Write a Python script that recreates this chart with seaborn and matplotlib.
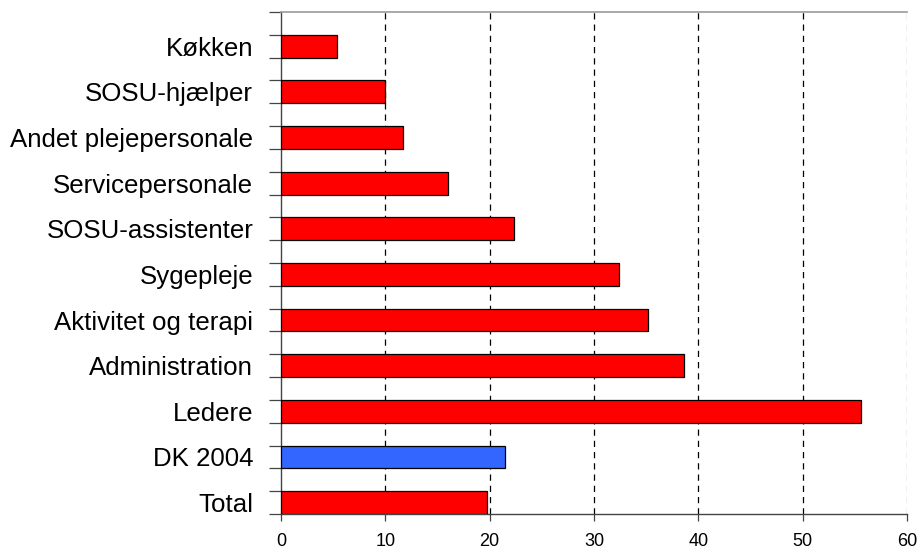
import numpy as np
import pandas as pd
import matplotlib
matplotlib.use("Agg")
import matplotlib.pyplot as plt
from matplotlib.ticker import FixedLocator
import seaborn as sns

categories = ["Køkken", "SOSU-hjælper", "Andet plejepersonale", "Servicepersonale",
              "SOSU-assistenter", "Sygepleje", "Aktivitet og terapi", "Administration",
              "Ledere", "DK 2004", "Total"]
values = [5.4, 10.0, 11.7, 16.0, 22.3, 32.4, 35.2, 38.6, 55.6, 21.5, 19.7]
x_ticks = [0, 10, 20, 30, 40, 50, 60]

RED = "#FF0000"
BLUE = "#3366FF"
colors = {c: (BLUE if c == "DK 2004" else RED) for c in categories}

df = pd.DataFrame({"kategori": categories, "andel": values})

sns.set_theme(style="white")
plt.rcParams["font.family"] = ["Liberation Sans", "DejaVu Sans"]
plt.rcParams["text.color"] = "black"
plt.rcParams["xtick.color"] = "black"
plt.rcParams["ytick.color"] = "black"

fig = plt.figure(figsize=(9.18, 5.5), dpi=100)
ax = fig.add_axes([281 / 918, 36 / 550, 626 / 918, 502 / 550])

sns.barplot(data=df, y="kategori", x="andel", hue="kategori", palette=colors,
            order=categories, hue_order=categories, legend=False, width=0.5,
            saturation=1, edgecolor="black", linewidth=0.9, dodge=False, ax=ax,
            zorder=3)

# bars sit in the lower half of each category band
ax.set_ylim(len(categories) - 0.75, -0.75)
ax.set_xlim(0, 60)

# dashed vertical gridlines
for x in x_ticks[1:]:
    ax.axvline(x, color="#888888" if x == 60 else "black", linestyle=(0, (5, 4)),
               linewidth=0.9, zorder=1)

ax.set_xlabel("")
ax.set_ylabel("")

ax.set_xticks(x_ticks)
ax.set_xticklabels([str(t) for t in x_ticks], fontsize=13, color="black")
ax.tick_params(axis="x", direction="out", length=5, width=0.9, color="#444444",
               pad=9, bottom=True)

ax.set_yticks(range(len(categories)))
ax.set_yticklabels(categories, fontsize=18.6, color="black")
ax.tick_params(axis="y", which="major", length=0, pad=20)
ax.yaxis.set_minor_locator(FixedLocator(np.arange(-0.75, len(categories) - 0.74, 0.5)))
ax.tick_params(axis="y", which="minor", direction="out", length=9, width=0.9,
               color="#444444", left=True)

for side in ["left", "bottom"]:
    ax.spines[side].set_color("#444444")
    ax.spines[side].set_linewidth(1.0)
ax.spines["top"].set_color("#999999")
ax.spines["top"].set_linewidth(1.2)
ax.spines["right"].set_visible(False)
ax.set_facecolor("white")

fig.savefig("out.png", dpi=100, facecolor="white")
